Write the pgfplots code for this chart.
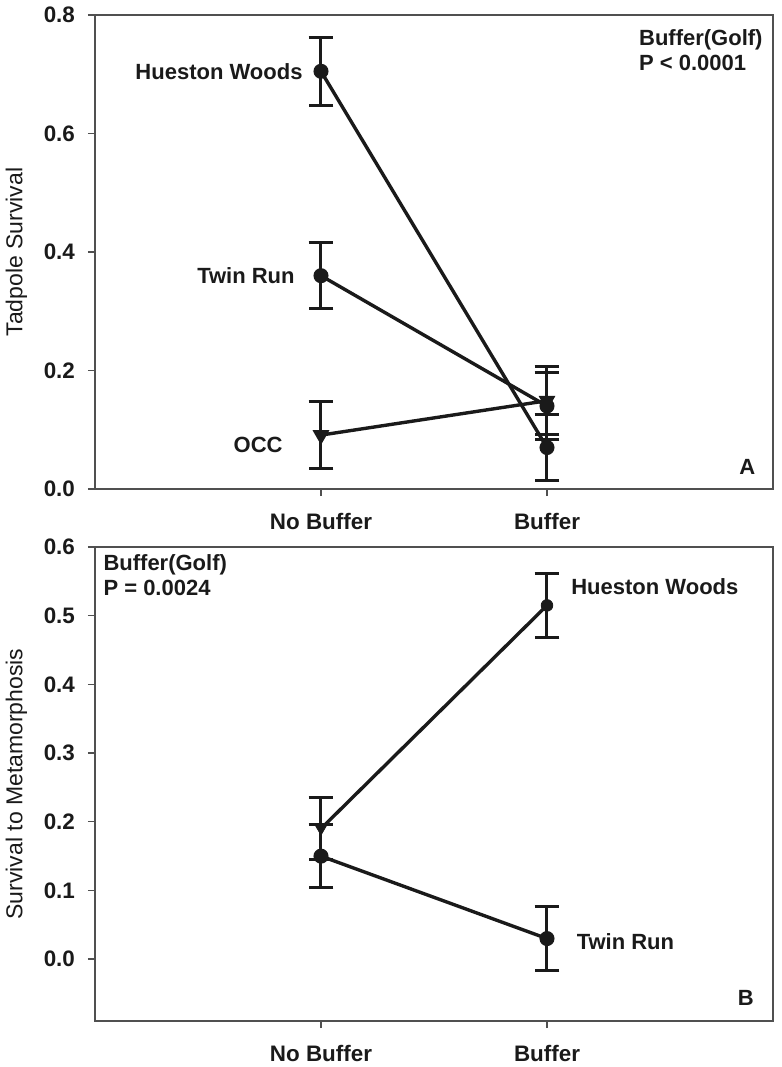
\documentclass[border=0pt]{standalone}
\usepackage{fontspec}
\setmainfont{Liberation Sans}
\usepackage{pgfplots}
\pgfplotsset{compat=1.18}
\definecolor{ink}{HTML}{1A1A1A}
\definecolor{frame}{HTML}{505050}
\pgfplotsset{
  panel/.style={
    scale only axis, width=339pt, height=237pt,
    xmin=0, xmax=3, xtick={1,2}, xticklabels={No Buffer, Buffer},
    xtick pos=bottom, ytick pos=left, tick align=outside,
    major tick length=3.5pt,
    axis line style={frame, line width=0.7pt},
    tick style={frame, line width=0.7pt},
    /pgf/number format/assume math mode=true,
    tick label style={font=\fontsize{11.2}{13}\selectfont\bfseries, text=ink},
    yticklabel style={/pgf/number format/fixed, /pgf/number format/fixed zerofill, /pgf/number format/precision=1, xshift=-3pt},
    xticklabel style={yshift=-5pt},
    ylabel style={yshift=1.5pt},
    label style={font=\fontsize{11.5}{13}\selectfont, text=ink},
    clip=false,
  },
  ser/.style={ink, line width=1.7pt, mark size=2.9pt, mark options={solid, fill=ink},
    error bars/y dir=both, error bars/y explicit,
    error bars/error bar style={line width=1.5pt, ink},
    error bars/error mark options={rotate=90, mark size=6.2pt, line width=1.5pt, ink}},
}
\tikzset{ann/.style={font=\fontsize{11}{12.5}\selectfont\bfseries, text=ink, inner sep=0pt}}
\begin{document}
\begin{tikzpicture}
\path[use as bounding box] (-47.5pt,7.5pt) rectangle (343.5pt,-526pt);
% Panel A
\begin{axis}[panel, at={(0,0)}, anchor=north west,
  ymin=0, ymax=0.8, ytick={0,0.2,0.4,0.6,0.8},
  ylabel={Tadpole Survival}]
\addplot[ser, mark=*] coordinates {(1,0.705) +- (0,0.057) (2,0.070) +- (0,0.056)};
\addplot[ser, mark=*] coordinates {(1,0.360) +- (0,0.056) (2,0.140) +- (0,0.056)};
\addplot[ser, mark=triangle*, mark options={rotate=180, solid, fill=ink}, mark size=3.2pt] coordinates {(1,0.091) +- (0,0.057) (2,0.149) +- (0,0.057)};
\node[ann, anchor=east] at (axis cs:0.92,0.705) {Hueston Woods};
\node[ann, anchor=east] at (axis cs:0.885,0.360) {Twin Run};
\node[ann, anchor=east] at (axis cs:0.832,0.074) {OCC};
\node[ann, anchor=north west, align=left] at (rel axis cs:0.802,0.97) {Buffer(Golf)\\P < 0.0001};
\node[ann] at (rel axis cs:0.962,0.046) {A};
\end{axis}
% Panel B
\begin{axis}[panel, at={(0,-266pt)}, anchor=north west,
  ymin=-0.09, ymax=0.6, ytick={0,0.1,0.2,0.3,0.4,0.5,0.6},
  ylabel={Survival to Metamorphosis}]
\addplot[ser, mark=none] coordinates {(1,0.190) +- (0,0.045) (2,0.515) +- (0,0.046)};
\addplot[ink, only marks, mark=triangle*, mark size=3.2pt, mark options={rotate=180, fill=ink}] coordinates {(1,0.190)};
\addplot[ink, only marks, mark=*, mark size=2.9pt, mark options={fill=ink}] coordinates {(2,0.515)};
\addplot[ser, mark=*] coordinates {(1,0.150) +- (0,0.046) (2,0.030) +- (0,0.046)};
\node[ann, anchor=north west, align=left] at (rel axis cs:0.012,0.985) {Buffer(Golf)\\P = 0.0024};
\node[ann, anchor=west] at (axis cs:2.106,0.543) {Hueston Woods};
\node[ann, anchor=west] at (axis cs:2.13,0.026) {Twin Run};
\node[ann] at (rel axis cs:0.96,0.049) {B};
\end{axis}
\end{tikzpicture}
\end{document}
